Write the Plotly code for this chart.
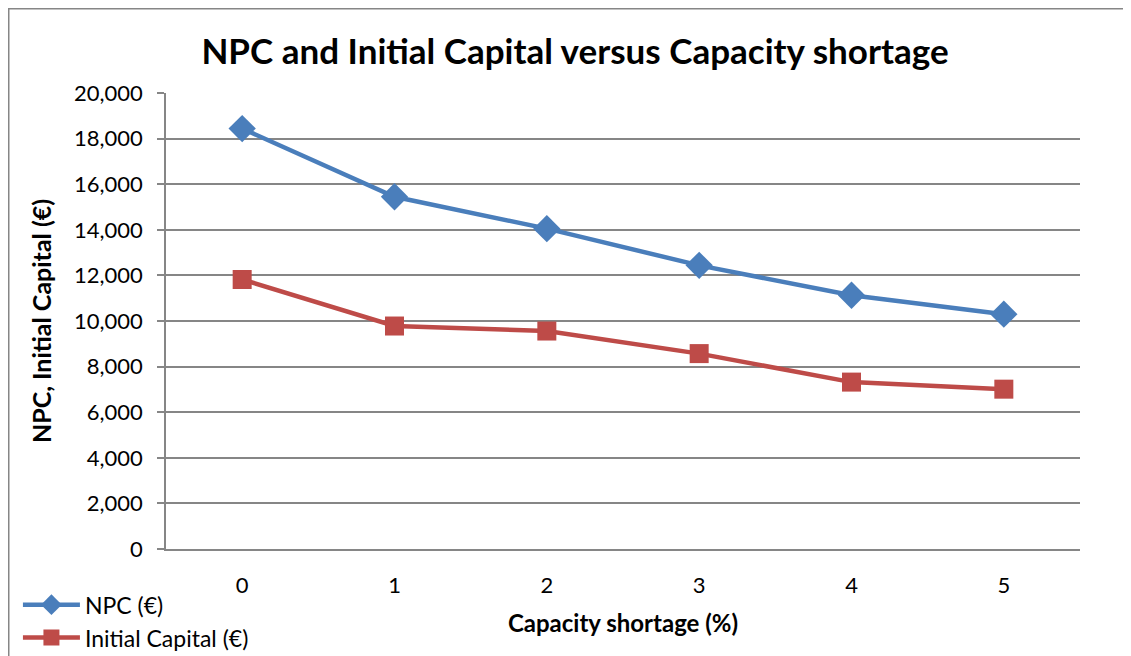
import plotly.graph_objects as go

shortage = [0, 1, 2, 3, 4, 5]
npc = [18440, 15450, 14050, 12440, 11130, 10300]
initial_capital = [11820, 9780, 9560, 8570, 7320, 7010]

FONT = "Lato, 'Open Sans', sans-serif"
GRID = "#868686"

# the page body adds 8px around the figure, so the figure is 8px smaller
W, H = 1123, 648
L, R, T, B = 158, 51, 85, 107
PW, PH = W - L - R, H - T - B

fig = go.Figure()
fig.add_trace(go.Scatter(
    x=shortage, y=npc, name="NPC (€)", mode="lines+markers",
    line=dict(color="#4A7EBB", width=4.5),
    marker=dict(symbol="diamond", size=21, color="#4A7EBB"),
))
fig.add_trace(go.Scatter(
    x=shortage, y=initial_capital, name="Initial Capital (€)", mode="lines+markers",
    line=dict(color="#BE4B48", width=4.5),
    marker=dict(symbol="square", size=19, color="#BE4B48"),
))

fig.update_layout(
    width=W, height=H,
    margin=dict(l=L, r=R, t=T, b=B, autoexpand=False),
    paper_bgcolor="white", plot_bgcolor="white",
    font=dict(family=FONT, size=22, color="black"),
    title=dict(text="<b>NPC and Initial Capital versus Capacity shortage</b>",
               x=(575 - 8 - L) / PW, xanchor="center", xref="paper",
               y=1 - 44 / H, yanchor="middle", yref="container", automargin=False,
               font=dict(size=35, family=FONT)),
    legend=dict(x=-0.162, y=-0.075, xanchor="left", yanchor="top",
                font=dict(size=23), tracegroupgap=0, itemwidth=57,
                bgcolor="rgba(0,0,0,0)"),
    showlegend=True,
)
fig.update_xaxes(
    range=[-0.5, 5.5], tickvals=shortage, ticks="", showgrid=False,
    showline=True, linecolor=GRID, linewidth=1.5, zeroline=False,
    ticklabelstandoff=16, tickfont=dict(size=22), automargin=False,
    title=dict(text="<b>Capacity shortage (%)</b>", font=dict(size=24), standoff=18),
)
fig.update_yaxes(
    range=[0, 20000], dtick=2000, tickformat=",d",
    showgrid=True, gridcolor=GRID, gridwidth=1.5,
    showline=True, linecolor=GRID, linewidth=1.5, zeroline=False,
    ticks="outside", ticklen=7, tickcolor=GRID, tickwidth=1.5,
    ticklabelstandoff=10, tickfont=dict(size=22), automargin=False,
    title=dict(text="<b>NPC, Initial Capital (€)</b>", font=dict(size=25), standoff=15),
)

# outer chart frame, cropped by the window
fig.add_shape(type="rect", xref="paper", yref="paper",
              x0=(0.75 - L) / PW, x1=1.3, y0=-0.5, y1=(PH + T - 0.75) / PH,
              line=dict(color=GRID, width=1.5), fillcolor="rgba(0,0,0,0)", layer="below")

fig.write_html("out.html")
